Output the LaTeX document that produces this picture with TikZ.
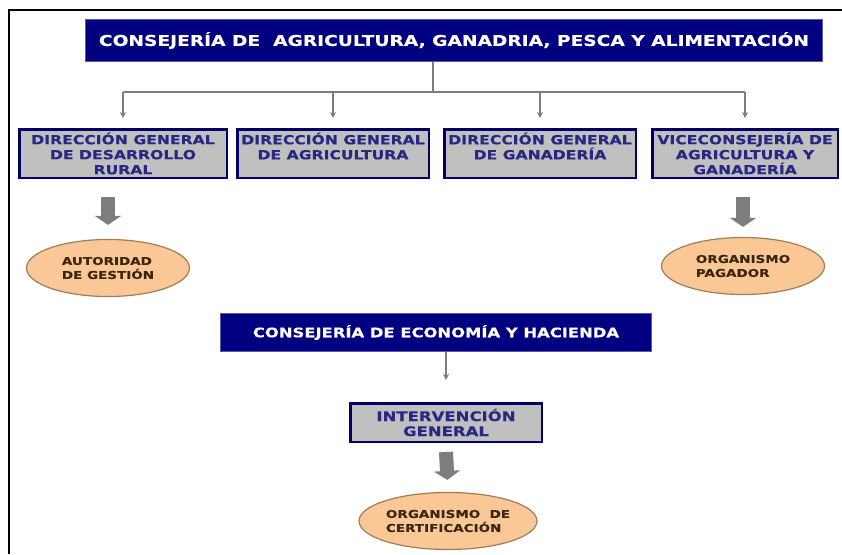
\documentclass[tikz,border=0pt]{standalone}
\usepackage{fontspec}
\newfontfamily\rotulo[FakeStretch=1.25, FakeBold=0.4]{DejaVu Sans}
\usepackage{xcolor}
\usetikzlibrary{
  shapes.geometric,
  arrows.meta,
  positioning,
  calc
}
\definecolor{azulcons}{RGB}{0, 0, 128}
\definecolor{grisdir}{RGB}{192, 192, 192}
\definecolor{azultexto}{RGB}{40, 40, 130}
\definecolor{naranjaorg}{RGB}{250, 200, 150}
\definecolor{bordeorg}{RGB}{160, 125, 85}
\definecolor{marronorg}{RGB}{60, 38, 15}
\definecolor{grisflecha}{RGB}{125, 125, 125}

\begin{document}
\begin{tikzpicture}[
  x=1pt, y=-1pt,
  cons/.style = {
    rectangle, draw=azulcons!65!white, fill=azulcons, line width=1pt,
    text=white, inner sep=0pt, minimum height=42pt,
    font=\rotulo\bfseries\fontsize{14.9}{17}\selectfont
  },
  dir/.style  = {
    rectangle, draw=azulcons!80!black, fill=grisdir, line width=2.5pt,
    text=azultexto, align=center, inner sep=0pt, minimum height=48.5pt,
    font=\rotulo\bfseries\fontsize{12.5}{15}\selectfont
  },
  org/.style  = {
    ellipse, draw=bordeorg, fill=naranjaorg, line width=1.2pt,
    text=marronorg, align=left, inner sep=0pt,
    minimum width=163pt, minimum height=57pt,
    font=\rotulo\bfseries\fontsize{10.8}{14}\selectfont
  },
  linea/.style  = {line width=1.6pt, grisflecha},
  arr/.style    = {-{Stealth[length=6pt, width=6pt]}, line width=1.6pt, grisflecha},
  gruesa/.style = {-{Triangle[length=9pt, width=26pt]}, line width=14pt, grisflecha}
]
\useasboundingbox (0,0) rectangle (842,554);

% Marco
\draw[line width=1.5pt] (842,10) -- (9,10) -- (9,554);

% Consejería principal
\node[cons, minimum width=737pt] (cag) at (454,40.5)
  {CONSEJERÍA DE\ \ AGRICULTURA, GANADRIA, PESCA Y ALIMENTACIÓN};

% Fila de direcciones
\node[dir, minimum width=207.5pt] (dgdr) at (123,153.5)
  {DIRECCIÓN GENERAL\\DE DESARROLLO\\RURAL};
\node[dir, minimum width=191.5pt, right=8pt of dgdr] (dga)
  {DIRECCIÓN GENERAL\\DE AGRICULTURA\\\mbox{}};
\node[dir, minimum width=191.5pt, right=13pt of dga] (dgg)
  {DIRECCIÓN GENERAL\\DE GANADERÍA\\\mbox{}};
\node[dir, minimum width=185.5pt, right=14pt of dgg] (vice)
  {VICECONSEJERÍA DE\\AGRICULTURA Y\\GANADERÍA};

% Organismos
\node[org] (autg) at (108,268) {AUTORIDAD\\DE GESTIÓN};
\node[org] (pag)  at (743,266) {ORGANISMO\\PAGADOR};

% Consejería de economía
\node[cons, minimum width=431pt, minimum height=38pt,
      font=\rotulo\bfseries\fontsize{13.1}{15}\selectfont] (ceh) at (436,332.5)
  {CONSEJERÍA DE ECONOMÍA Y HACIENDA};
\node[dir, minimum width=191.5pt, minimum height=38.5pt,
      font=\rotulo\bfseries\fontsize{13.2}{15}\selectfont] (ig) at (446,422.5)
  {INTERVENCIÓN\\GENERAL};
\node[org, minimum width=178pt] (cert) at (448,521)
  {ORGANISMO\ \ DE\\CERTIFICACIÓN};

% Flechas de la consejería a las direcciones
\coordinate (rep) at (433,92);
\draw[linea] (cag.south -| rep) -- (rep);
\draw[linea] (dgdr.north |- rep) -- (vice.north |- rep);
\foreach \d in {dgdr,dga,dgg,vice}
  \draw[arr, shorten >=10pt] (\d.north |- rep) -- (\d.north);

% Flechas gruesas
\draw[gruesa, shorten >=14pt] ($(dgdr.south -| autg.north)+(0,18)$) -- (autg.north);
\draw[gruesa, shorten >=10pt] ($(vice.south -| pag.north)+(0,18)$) -- (pag.north);
\draw[arr, shorten >=22pt] (ceh.south -| ig.north) -- (ig.north);
\draw[gruesa, shorten >=12pt] ($(ig.south)+(0,9)$) -- (cert.north);

\end{tikzpicture}
\end{document}
